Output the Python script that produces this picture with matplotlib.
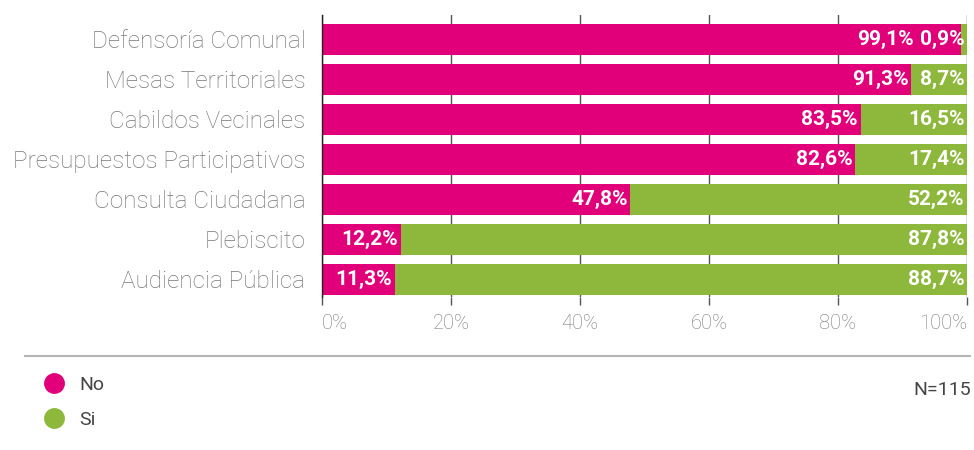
import numpy as np
import matplotlib.pyplot as plt
from matplotlib.lines import Line2D

# data
categories = ["Defensoría Comunal", "Mesas Territoriales", "Cabildos Vecinales",
              "Presupuestos Participativos", "Consulta Ciudadana", "Plebiscito",
              "Audiencia Pública"]
no_vals = [99.1, 91.3, 83.5, 82.6, 47.8, 12.2, 11.3]
si_vals = [0.9, 8.7, 16.5, 17.4, 52.2, 87.8, 88.7]
series_names = ["No", "Si"]
xticks = [0, 20, 40, 60, 80, 100]
n_text = "N=115"

pink = "#E2007A"
green = "#8DB83C"

plt.rcParams['font.family'] = ['Roboto', 'DejaVu Sans']

fig = plt.figure(figsize=(9.74, 4.5), dpi=100)
ax = fig.add_axes([322 / 974, 1 - 297 / 450, 645 / 974, 282 / 450])

y = np.arange(len(categories))
no = np.array(no_vals)
si = np.array(si_vals)

ax.barh(y, no, height=0.775, color=pink, zorder=2)
ax.barh(y, si, left=no, height=0.775, color=green, zorder=2)

ax.set_xlim(0, 100)
ax.set_ylim(6.45, -0.6)


def pct(v):
    return f"{v:.1f}%".replace(".", ",")


# Si labels at the right end, No labels at the end of the pink bar,
# pushed left when they would run into the Si label
fig.canvas.draw()
renderer = fig.canvas.get_renderer()
inv = ax.transData.inverted()
for i in range(len(categories)):
    t_si = ax.text(99.6, y[i], pct(si[i]), ha="right", va="center",
                   color="white", fontsize=15, fontweight="bold", zorder=3)
    bb = t_si.get_window_extent(renderer)
    si_left = inv.transform((bb.x0, 0))[0]
    x_no = min(no[i] - 0.4, si_left - 0.9)
    ax.text(x_no, y[i], pct(no[i]), ha="right", va="center",
            color="white", fontsize=15, fontweight="bold", zorder=3)

ax.set_yticks(y)
ax.set_yticklabels(categories, fontsize=17.5, color="#777777", fontweight="light")
ax.tick_params(axis="y", length=0, pad=12)
for lab in ax.get_yticklabels():
    lab.set_va("center_baseline")

ax.set_xticks(xticks)
ax.set_xticklabels([f"{t}%" for t in xticks], fontsize=14.5, color="#7a7a7a",
                   fontweight="light")
ax.tick_params(axis="x", length=6, width=1, color="#555555", pad=6)
labels = ax.get_xticklabels()
labels[0].set_ha("left")
labels[-1].set_ha("right")

ax.grid(axis="x", color="#555555", linewidth=1, zorder=0)
for s in ["top", "right", "bottom"]:
    ax.spines[s].set_visible(False)
ax.spines["left"].set_color("#222222")
ax.spines["left"].set_linewidth(1)

# separator
fig.add_artist(Line2D([25 / 974, 970 / 974], [1 - 356 / 450] * 2,
                      color="#b5b5b5", linewidth=1.5))

handles = [Line2D([], [], marker="o", linestyle="", markersize=14,
                  markerfacecolor=c, markeredgecolor=c) for c in [pink, green]]
fig.legend(handles, series_names, loc="upper left",
           bbox_to_anchor=(27 / 974, 1 - 368 / 450), frameon=False,
           fontsize=14, labelcolor="#444444", handletextpad=0.3,
           labelspacing=0.9, borderaxespad=0)

fig.text(971 / 974, 1 - 390 / 450, n_text, ha="right", va="center",
         fontsize=14, color="#444444")

fig.savefig("out.png", dpi=100)
